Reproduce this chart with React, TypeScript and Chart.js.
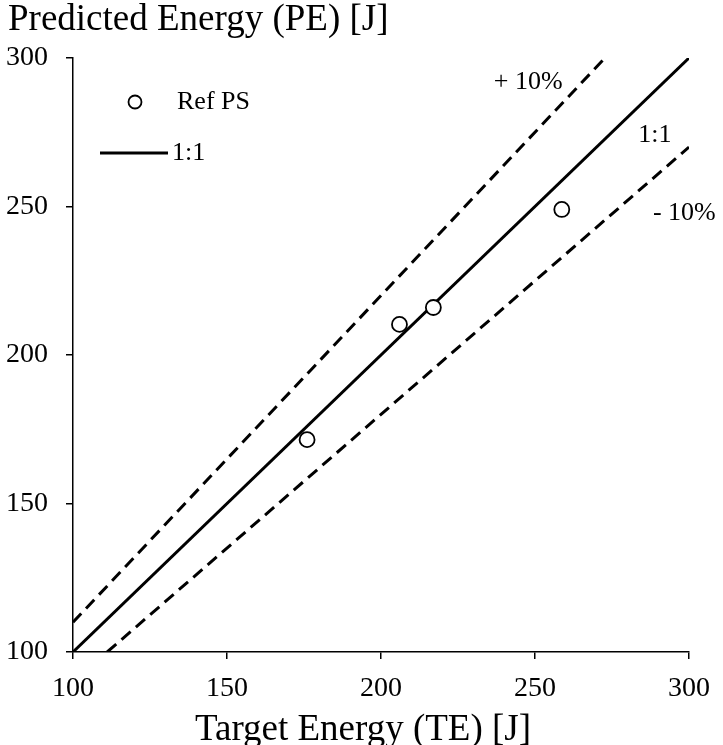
import React, { useEffect, useRef } from "react";
import { Chart, registerables } from "chart.js";
Chart.register(...registerables);

const FONT = '"Liberation Serif", "Times New Roman", serif';

// Reference points (Target Energy vs Predicted Energy)
const refX = [176, 206, 217, 258.7];
const refY = [171.5, 210.3, 216, 249];
// Reference lines
const oneToOneX = [100, 300];
const oneToOneY = [100, 300];
const plusTenX = [100, 272.7];
const plusTenY = [110, 300];
const minusTenX = [111.1, 300];
const minusTenY = [100, 270];
// Ticks
const xTicks = [100, 150, 200, 250, 300];
const yTicks = [100, 150, 200, 250, 300];
// Band labels (anchored in data coordinates)
const bandLabels = ["+ 10%", "1:1", "- 10%"];
const bandLabelX = [236.6, 283.5, 288.3];
const bandLabelY = [291.9, 274.1, 247.8];

const xTitle = "Target Energy (TE) [J]";
const yTitle = "Predicted Energy (PE) [J]";
const legendLabels = ["Ref PS", "1:1"];

const toPts = (xs: number[], ys: number[]) => xs.map((x, i) => ({ x, y: ys[i] }));

export default function App() {
  const ref = useRef<HTMLCanvasElement | null>(null);
  useEffect(() => {
    if (!ref.current) return;
    const overlay = {
      id: "overlay",
      afterDraw(chart: any) {
        const ctx = chart.ctx;
        const xs = chart.scales.x;
        const ys = chart.scales.y;
        ctx.save();
        ctx.fillStyle = "#000";
        ctx.strokeStyle = "#000";
        // Titles
        ctx.font = `37px ${FONT}`;
        ctx.textBaseline = "alphabetic";
        ctx.textAlign = "left";
        ctx.fillText(yTitle, 8, 30);
        ctx.textAlign = "center";
        ctx.fillText(xTitle, 363, 740);
        // Band labels
        ctx.font = `26px ${FONT}`;
        ctx.textAlign = "left";
        ctx.textBaseline = "middle";
        bandLabels.forEach((t, i) => {
          ctx.fillText(t, xs.getPixelForValue(bandLabelX[i]), ys.getPixelForValue(bandLabelY[i]));
        });
        // Legend
        ctx.beginPath();
        ctx.lineWidth = 1.8;
        ctx.arc(135, 102, 6.5, 0, Math.PI * 2);
        ctx.stroke();
        ctx.fillText(legendLabels[0], 177, 102);
        ctx.beginPath();
        ctx.lineWidth = 3;
        ctx.moveTo(100, 153);
        ctx.lineTo(168, 153);
        ctx.stroke();
        ctx.fillText(legendLabels[1], 172, 153);
        ctx.restore();
      },
    };
    const axisCommon = {
      type: "linear" as const,
      min: 100,
      max: 300,
      grid: {
        display: true,
        drawOnChartArea: false,
        drawTicks: true,
        tickLength: 7,
        color: "#000",
        lineWidth: 1.5,
      },
      border: { display: true, color: "#000", width: 1.5 },
    };
    const chart = new Chart(ref.current, {
      type: "scatter",
      data: {
        datasets: [
          {
            label: "Ref PS",
            data: toPts(refX, refY),
            pointRadius: 7.5,
            pointBorderWidth: 1.8,
            pointBackgroundColor: "#fff",
            pointBorderColor: "#000",
            showLine: false,
            order: 0,
          },
          {
            label: "1:1",
            data: toPts(oneToOneX, oneToOneY),
            showLine: true,
            borderColor: "#000",
            borderWidth: 3,
            pointRadius: 0,
            order: 1,
          },
          {
            label: "+10%",
            data: toPts(plusTenX, plusTenY),
            showLine: true,
            borderColor: "#000",
            borderWidth: 3,
            borderDash: [12, 7],
            pointRadius: 0,
            order: 2,
          },
          {
            label: "-10%",
            data: toPts(minusTenX, minusTenY),
            showLine: true,
            borderColor: "#000",
            borderWidth: 3,
            borderDash: [12, 7],
            pointRadius: 0,
            order: 3,
          },
        ],
      },
      options: {
        responsive: false,
        animation: false,
        layout: { padding: { top: 58, right: 32, left: 0, bottom: 0 } },
        plugins: { legend: { display: false }, tooltip: { enabled: false }, title: { display: false } },
        scales: {
          x: {
            ...axisCommon,
            ticks: { font: { family: FONT, size: 28 }, color: "#000", padding: 13, maxRotation: 0 },
            afterBuildTicks: (s: any) => { s.ticks = xTicks.map((v) => ({ value: v })); },
            afterFit: (s: any) => { s.height = 93; },
          },
          y: {
            ...axisCommon,
            ticks: { font: { family: FONT, size: 28 }, color: "#000", padding: 18 },
            afterBuildTicks: (s: any) => { s.ticks = yTicks.map((v) => ({ value: v })); },
            afterFit: (s: any) => { s.width = 73; },
          },
        },
      },
      plugins: [overlay],
    });
    return () => chart.destroy();
  }, []);
  return (
    <div style={{ position: "absolute", left: 0, top: 0, width: 723, height: 745, background: "#fff" }}>
      <canvas ref={ref} width={723} height={745} />
    </div>
  );
}
